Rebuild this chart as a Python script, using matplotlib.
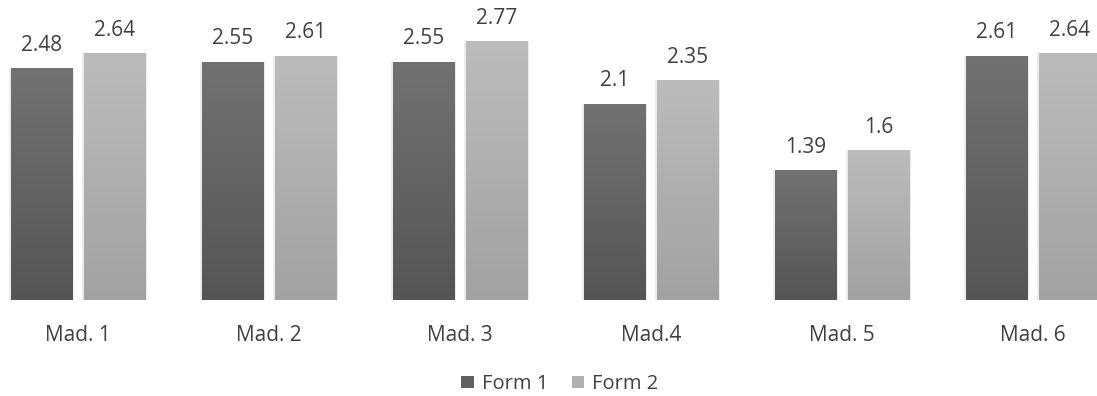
import numpy as np
import matplotlib
matplotlib.use("Agg")
import matplotlib.pyplot as plt
from matplotlib.patches import Patch
from matplotlib.colors import LinearSegmentedColormap

categories = ["Mad. 1", "Mad. 2", "Mad. 3", "Mad.4", "Mad. 5", "Mad. 6"]
form1 = [2.48, 2.55, 2.55, 2.1, 1.39, 2.61]
form2 = [2.64, 2.61, 2.77, 2.35, 1.6, 2.64]
series_names = ["Form 1", "Form 2"]

plt.rcParams['font.family'] = ['Open Sans', 'DejaVu Sans']
W, H = 1097, 396
fig = plt.figure(figsize=(W / 100, H / 100), dpi=100)
ax = fig.add_axes([0, 1 - 300 / H, 1, 300 / H])
x = np.arange(len(categories))
bw = 0.32
off = 0.191

cmaps = [LinearSegmentedColormap.from_list("f1", ["#555555", "#727272"]),
         LinearSegmentedColormap.from_list("f2", ["#a2a2a2", "#bcbcbc"])]
grad = np.linspace(0, 1, 256).reshape(-1, 1)
text_color = "#404040"

for k, (vals, cm) in enumerate(zip([form1, form2], cmaps)):
    xs = x + (-off if k == 0 else off)
    # soft shadow
    ax.bar(xs, vals, width=bw + 0.02, color="#ececec", zorder=1)
    bars = ax.bar(xs, vals, width=bw, color="none", zorder=2)
    for b, v in zip(bars, vals):
        x0 = b.get_x()
        im = ax.imshow(grad, cmap=cm, origin="lower", aspect="auto",
                       extent=[x0, x0 + bw, 0, v], zorder=2)
        im.set_clip_path(b)
        ax.annotate(f"{v:g}", (b.get_x() + bw / 2, v), xytext=(0, 9),
                    textcoords="offset points", ha="center", va="bottom",
                    fontsize=15, color=text_color)

ax.set_xlim(-78 / 191, (W - 78) / 191)
ax.set_ylim(0, 300 / 93.5)
ax.set_xticks(x)
ax.set_xticklabels(categories, fontsize=15, color=text_color)
ax.tick_params(axis="x", length=0, pad=18)
ax.set_yticks([])
for s in ax.spines.values():
    s.set_visible(False)

handles = [Patch(facecolor="#606060", label=series_names[0]),
           Patch(facecolor="#b0b0b0", label=series_names[1])]
leg = fig.legend(handles=handles, loc="center", bbox_to_anchor=(560 / W, 1 - 384 / H),
                 ncol=2, frameon=False, fontsize=14.5, handlelength=0.6, handleheight=0.6,
                 handletextpad=0.4, columnspacing=1.2)
for t in leg.get_texts():
    t.set_color(text_color)

fig.savefig("out.png", dpi=100, facecolor="white")
